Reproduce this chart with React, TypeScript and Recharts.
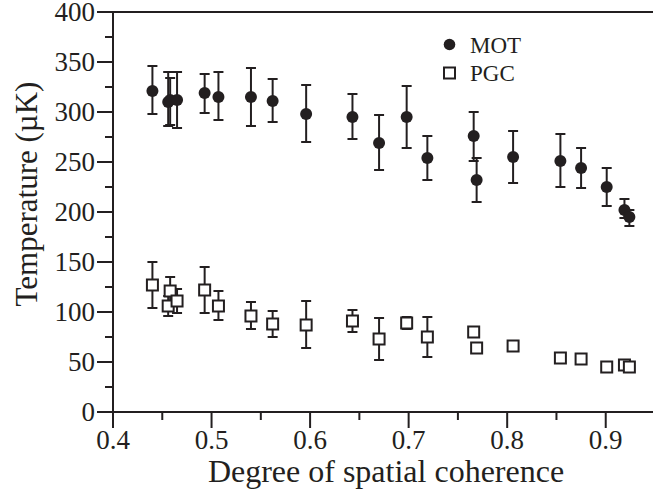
import React from 'react';
import { ScatterChart, Scatter, XAxis, YAxis, ErrorBar, Legend } from 'recharts';

const INK = '#231f20';
const FONT = '"Liberation Serif", "Times New Roman", Times, serif';

// Degree of spatial coherence (shared by both series)
const coherence = [0.44, 0.456, 0.458, 0.465, 0.493, 0.507, 0.54, 0.562, 0.596, 0.643, 0.67, 0.698, 0.719, 0.766, 0.769, 0.806, 0.854, 0.875, 0.901, 0.919, 0.924];

// MOT temperatures (µK) and asymmetric errors
const motTemp = [321, 310, 312, 312, 319, 315, 315, 311, 298, 295, 269, 295, 254, 276, 232, 255, 251, 244, 225, 202, 195];
const motErrLow = [23, 24, 25, 28, 20, 23, 29, 21, 28, 22, 27, 31, 22, 25, 22, 26, 26, 20, 19, 8, 9];
const motErrHigh = [25, 30, 22, 28, 19, 25, 29, 22, 29, 23, 28, 31, 22, 24, 22, 26, 27, 20, 19, 11, 7];

// PGC temperatures (µK) and asymmetric errors
const pgcTemp = [127, 106, 121, 111, 122, 106, 96, 88, 87, 91, 73, 89, 75, 80, 64, 66, 54, 53, 45, 47, 45];
const pgcErrLow = [23, 10, 11, 12, 23, 14, 13, 13, 23, 11, 21, 6, 20, 4, 4, 3, 3, 3, 3, 3, 3];
const pgcErrHigh = [23, 10, 14, 12, 23, 15, 14, 13, 24, 11, 21, 6, 20, 4, 4, 3, 3, 3, 3, 3, 3];

// Axis ticks
const xMajorTicks = [0.4, 0.5, 0.6, 0.7, 0.8, 0.9];
const xTickLabels = ['0.4', '0.5', '0.6', '0.7', '0.8', '0.9'];
const xMinorTicks = [0.45, 0.55, 0.65, 0.75, 0.85, 0.95];
const yMajorTicks = [0, 50, 100, 150, 200, 250, 300, 350, 400];
const yTickLabels = ['0', '50', '100', '150', '200', '250', '300', '350', '400'];
const yMinorTicks = [25, 75, 125, 175, 225, 275, 325, 375];

const xTicks = [...xMajorTicks, ...xMinorTicks].sort((a, b) => a - b);
const yTicks = [...yMajorTicks, ...yMinorTicks].sort((a, b) => a - b);

const motData = coherence.map((x, i) => ({ x, y: motTemp[i], err: [motErrLow[i], motErrHigh[i]] }));
const pgcData = coherence.map((x, i) => ({ x, y: pgcTemp[i], err: [pgcErrLow[i], pgcErrHigh[i]] }));

const isMajorX = (v: number) => xMajorTicks.some((m) => Math.abs(m - v) < 1e-9);
const xLabel = (v: number) => xTickLabels[xMajorTicks.findIndex((m) => Math.abs(m - v) < 1e-9)];
const isMajorY = (v: number) => yMajorTicks.includes(v);
const yLabel = (v: number) => yTickLabels[yMajorTicks.indexOf(v)];

const BottomTick = (props: any) => {
  const { x, y, payload } = props;
  const major = isMajorX(payload.value);
  return (
    <g>
      <line x1={x} x2={x} y1={y} y2={y + (major ? 16 : 8)} stroke={INK} strokeWidth={2} />
      {major && (
        <text x={x} y={y + 37} textAnchor="middle" fontFamily={FONT} fontSize={27} fill={INK}>
          {xLabel(payload.value)}
        </text>
      )}
    </g>
  );
};

const TopTick = (props: any) => {
  const { x, y, payload } = props;
  const major = isMajorX(payload.value);
  return <line x1={x} x2={x} y1={y} y2={y + (major ? 15 : 7)} stroke={INK} strokeWidth={2} />;
};

const LeftTick = (props: any) => {
  const { x, y, payload } = props;
  const major = isMajorY(payload.value);
  return (
    <g>
      <line x1={x - (major ? 16 : 8)} x2={x} y1={y} y2={y} stroke={INK} strokeWidth={2} />
      {major && (
        <text x={x - 18} y={y + 8.5} textAnchor="end" fontFamily={FONT} fontSize={27} fill={INK}>
          {yLabel(payload.value)}
        </text>
      )}
    </g>
  );
};

const RightTick = (props: any) => {
  const { x, y, payload } = props;
  const major = isMajorY(payload.value);
  return <line x1={x - (major ? 15 : 8)} x2={x} y1={y} y2={y} stroke={INK} strokeWidth={2} />;
};

const MotShape = (props: any) => <circle cx={props.cx} cy={props.cy} r={6} fill={INK} />;
const PgcShape = (props: any) => (
  <rect x={props.cx - 5.5} y={props.cy - 5.5} width={11} height={11} fill="#fff" stroke={INK} strokeWidth={2} />
);

const renderLegend = () => (
  <svg width={110} height={60}>
    <circle cx={9.5} cy={14.5} r={5.8} fill={INK} />
    <text x={30} y={22.5} fontFamily={FONT} fontSize={23} fill={INK}>MOT</text>
    <rect x={4} y={37.5} width={11} height={11} fill="#fff" stroke={INK} strokeWidth={2} />
    <text x={30} y={51} fontFamily={FONT} fontSize={23} fill={INK}>PGC</text>
  </svg>
);

const YTitle = () => (
  <text x={37} y={194} transform="rotate(-90 37 194)" textAnchor="middle" fontFamily={FONT} fontSize={31} fill={INK}>
    Temperature (µK)
  </text>
);

const XTitle = () => (
  <text x={386} y={482} textAnchor="middle" fontFamily={FONT} fontSize={32} fill={INK}>
    Degree of spatial coherence
  </text>
);

export default function App() {
  return (
    <div style={{ position: 'absolute', left: 0, top: 0, width: 653, height: 497, overflow: 'hidden', background: '#fff' }}>
      <ScatterChart width={660} height={497} margin={{ top: 0, right: 0, bottom: 0, left: 0 }}>
        <XAxis
          xAxisId="bottom"
          type="number"
          dataKey="x"
          domain={[0.4, 0.95]}
          ticks={xTicks}
          interval={0}
          height={85}
          orientation="bottom"
          axisLine={{ stroke: INK, strokeWidth: 2 }}
          tickLine={false}
          tickSize={0}
          tickMargin={0}
          tick={<BottomTick />}
          label={<XTitle />}
        />
        <XAxis
          xAxisId="top"
          type="number"
          dataKey="x"
          domain={[0.4, 0.95]}
          ticks={xTicks}
          interval={0}
          height={12}
          orientation="top"
          axisLine={{ stroke: INK, strokeWidth: 2 }}
          tickLine={false}
          tickSize={0}
          tickMargin={0}
          tick={<TopTick />}
        />
        <YAxis
          yAxisId="left"
          type="number"
          dataKey="y"
          domain={[0, 400]}
          ticks={yTicks}
          interval={0}
          width={113}
          orientation="left"
          axisLine={{ stroke: INK, strokeWidth: 2 }}
          tickLine={false}
          tickSize={0}
          tickMargin={0}
          tick={<LeftTick />}
          label={<YTitle />}
        />
        <YAxis
          yAxisId="right"
          type="number"
          dataKey="y"
          domain={[0, 400]}
          ticks={yTicks}
          interval={0}
          width={5}
          orientation="right"
          axisLine={{ stroke: INK, strokeWidth: 2 }}
          tickLine={false}
          tickSize={0}
          tickMargin={0}
          tick={<RightTick />}
        />
        <Legend
          layout="horizontal"
          verticalAlign="middle"
          align="center"
          content={renderLegend}
          wrapperStyle={{ position: 'absolute', left: 440, top: 30, width: 110, height: 60 }}
        />
        <Scatter name="MOT" data={motData} xAxisId="bottom" yAxisId="left" dataKey="y" shape={<MotShape />} isAnimationActive={false}>
          <ErrorBar dataKey="err" direction="y" width={5} strokeWidth={2} stroke={INK} />
        </Scatter>
        <Scatter name="PGC" data={pgcData} xAxisId="bottom" yAxisId="left" dataKey="y" shape={<PgcShape />} isAnimationActive={false}>
          <ErrorBar dataKey="err" direction="y" width={5} strokeWidth={2} stroke={INK} />
        </Scatter>
      </ScatterChart>
    </div>
  );
}
